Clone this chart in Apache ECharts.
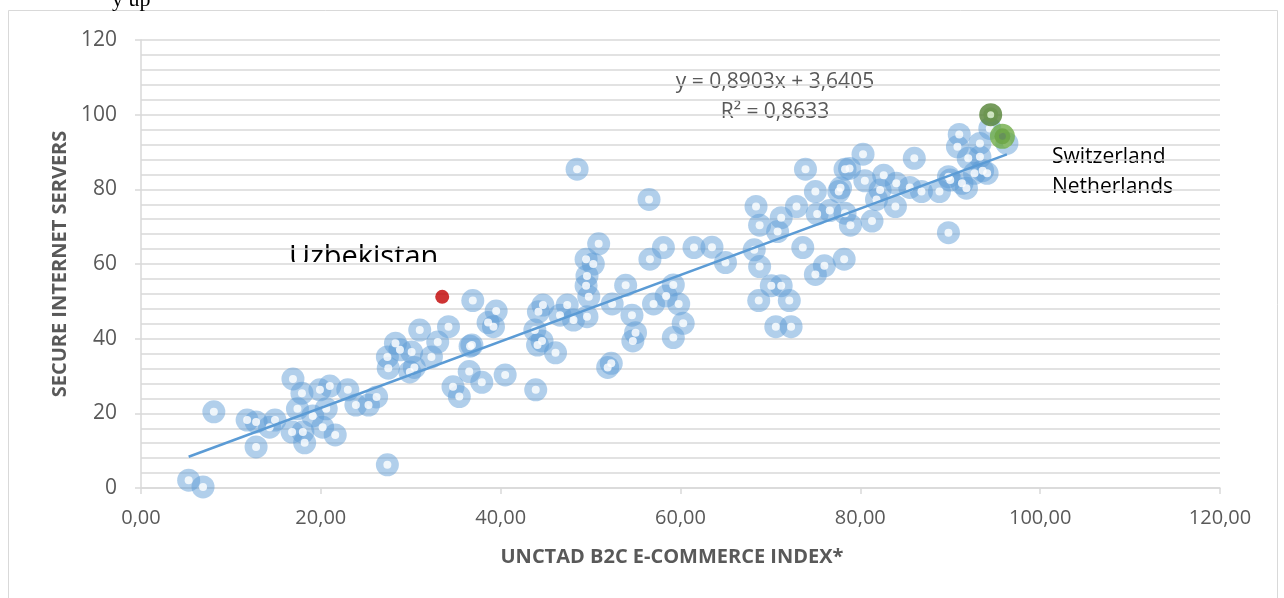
<!DOCTYPE html>
<html>
<head>
<meta charset="utf-8">
<script src="https://cdn.jsdelivr.net/npm/echarts@6/dist/echarts.min.js"></script>
<style>
  html, body { margin: 0; padding: 0; background: #fff; }
  #chart { width: 1284px; height: 598px; }
</style>
</head>
<body>
<div id="chart"></div>
<script>
// UNCTAD B2C e-commerce index (x) vs. secure internet servers (y), one pair per country
const b2cIndex = [
  5.3, 6.9, 8.1, 11.8, 12.8, 12.8, 14.3, 14.9, 16.9, 17.9, 17.4, 16.8, 18.0, 18.2, 19.1, 19.9, 21.0, 20.2, 20.6, 21.6,
  23.0, 23.9, 25.3, 26.2, 27.4, 28.3, 27.5, 28.8, 30.1, 29.9, 30.4, 31.0, 32.3, 33.0, 27.4,
  36.9, 39.5, 38.6, 39.2, 34.2, 36.8, 36.6, 36.5, 34.7, 35.4, 37.9, 40.5, 43.9, 44.2, 43.8, 44.1, 44.6, 46.1, 46.6, 48.1,
  47.4, 44.7, 49.6, 48.5, 56.5,
  49.5, 50.9, 49.6, 49.5, 49.8, 50.3, 52.4, 53.9, 54.6, 55.0, 54.7, 51.9, 52.3, 57.0, 56.6, 58.1, 61.5, 59.2, 58.4, 59.8,
  60.3, 59.2, 63.5, 65.0,
  68.4, 68.8, 68.2, 68.8, 70.1, 71.2, 68.7, 72.1, 70.6, 72.3, 71.2, 70.8, 72.9, 73.6, 73.9, 75.0, 75.2, 76.6, 75.0, 76.0,
  78.2, 77.6, 77.8, 78.3, 78.8, 80.3, 80.5, 78.3, 78.9, 81.3, 82.6, 82.2, 81.8, 84.0, 83.9, 86.0, 85.5,
  86.8, 88.8, 89.8, 89.8, 90.0, 91.0, 90.8, 92.0, 91.3, 91.8, 92.7, 93.3, 93.3, 93.6, 94.1, 94.4, 96.3
];
const secureServers = [
  2.1, 0.3, 20.4, 18.2, 11.0, 17.7, 16.3, 18.2, 29.2, 25.4, 21.2, 15.0, 15.0, 12.1, 19.3, 26.3, 27.3, 16.3, 21.2, 14.2,
  26.3, 22.2, 22.2, 24.4, 35.1, 38.8, 32.1, 37.0, 36.4, 31.1, 32.3, 42.3, 35.1, 39.1, 6.2,
  50.2, 47.4, 44.3, 43.2, 43.2, 38.3, 38.0, 31.2, 27.1, 24.5, 28.3, 30.3, 26.3, 47.2, 42.3, 38.3, 39.4, 36.2, 46.3, 45.0,
  49.0, 49.0, 45.9, 85.4, 77.3,
  61.3, 65.4, 56.8, 54.2, 51.2, 60.0, 49.3, 54.3, 46.3, 41.6, 39.4, 32.3, 33.4, 49.3, 61.3, 64.4, 64.4, 54.4, 51.4, 49.3,
  44.1, 40.3, 64.5, 60.4,
  75.4, 70.4, 63.8, 59.3, 54.2, 54.2, 50.2, 50.2, 43.2, 43.2, 72.4, 68.7, 75.4, 64.4, 85.4, 79.4, 73.4, 74.3, 57.2, 59.5,
  61.3, 79.4, 80.4, 85.4, 85.6, 89.4, 82.3, 73.6, 70.4, 71.5, 83.8, 79.8, 77.3, 81.6, 75.4, 88.3, 80.5,
  79.4, 79.4, 68.4, 83.4, 82.5, 94.7, 91.4, 88.3, 81.6, 80.3, 84.3, 92.3, 88.7, 85.0, 84.3, 96.3, 92.3
];

// Highlighted countries
const uzbekistan = [33.5, 51.2];
const switzerland = [94.5, 100.0];
const netherlands = [95.8, 94.2];

// Linear trend (as given by the fitted equation)
const trendSlope = 0.8903;
const trendIntercept = 3.6405;
const trendLabel = 'y = 0,8903x + 3,6405';
const r2Label = 'R² = 0,8633';

const axisTicks = [0, 20, 40, 60, 80, 100, 120];

const points = b2cIndex.map((x, i) => [x, secureServers[i]]);
const allX = b2cIndex.concat([uzbekistan[0], switzerland[0], netherlands[0]]);
const xLo = Math.min.apply(null, allX);
const xHi = Math.max.apply(null, allX);
const trend = [xLo, xHi].map(x => [x, trendSlope * x + trendIntercept]);

const GRID = '#D9D9D9';
const TXT = '#595959';
const FONT = '"Open Sans", "Liberation Sans", sans-serif';

const chart = echarts.init(document.getElementById('chart'), null, { renderer: 'canvas' });

chart.setOption({
  animation: false,
  backgroundColor: '#fff',
  grid: { left: 141, right: 64, top: 40, bottom: 110 },
  xAxis: {
    type: 'value',
    min: axisTicks[0], max: axisTicks[axisTicks.length - 1], interval: 20,
    axisLine: { show: true, lineStyle: { color: GRID, width: 1.5 } },
    axisTick: { show: true, length: 6, lineStyle: { color: GRID, width: 1.5 } },
    axisLabel: {
      color: TXT, fontFamily: FONT, fontSize: 20, margin: 20,
      formatter: v => v.toFixed(2).replace('.', ',')
    },
    splitLine: { show: false }
  },
  yAxis: {
    type: 'value',
    min: axisTicks[0], max: axisTicks[axisTicks.length - 1], interval: 20,
    axisLine: { show: true, lineStyle: { color: GRID, width: 1.5 } },
    axisTick: { show: true, length: 6, lineStyle: { color: GRID, width: 1.5 } },
    axisLabel: { color: TXT, fontFamily: FONT, fontSize: 21, margin: 24 },
    splitLine: { show: true, lineStyle: { color: GRID, width: 1.5 } },
    minorTick: { show: false, splitNumber: 5 },
    minorSplitLine: { show: true, lineStyle: { color: GRID, width: 1.5 } }
  },
  series: [
    // country markers: translucent disc with a white hole on top
    {
      name: 'countries',
      type: 'scatter',
      data: points,
      symbol: 'circle',
      symbolSize: 23,
      itemStyle: { color: 'rgba(91,155,213,0.6)' },
      z: 2
    },
    {
      name: 'countries-hole',
      type: 'scatter',
      data: points,
      symbol: 'circle',
      symbolSize: 8,
      itemStyle: { color: '#ffffff' },
      z: 3
    },
    {
      name: 'trend',
      type: 'line',
      data: trend,
      showSymbol: false,
      symbol: 'none',
      lineStyle: { color: '#5B9BD5', width: 2.5 },
      z: 4
    },
    {
      name: 'Uzbekistan',
      type: 'scatter',
      data: [uzbekistan],
      symbolSize: 14,
      itemStyle: { color: '#C00000' },
      z: 5
    },
    {
      name: 'Switzerland',
      type: 'scatter',
      data: [switzerland],
      symbolSize: 15,
      itemStyle: { color: '#C5E0B4', borderColor: '#548235', borderWidth: 8 },
      z: 5
    },
    {
      name: 'Netherlands',
      type: 'scatter',
      data: [netherlands],
      symbolSize: 16,
      itemStyle: { color: '#548235', borderColor: '#70AD47', borderWidth: 9 },
      z: 6
    }
  ],
  graphic: [
    { type: 'rect', z: -10, silent: true,
      shape: { x: 8.5, y: 10.5, width: 1269, height: 700 },
      style: { fill: 'none', stroke: GRID, lineWidth: 1 } },
    // tail of the line of text above the chart box
    { type: 'text', x: 112, y: 11, silent: true,
      style: { text: 'y up', font: '22px "Liberation Serif", serif', fill: '#000', verticalAlign: 'bottom' } },
    // axis titles
    { type: 'text', x: 60, y: 264, rotation: Math.PI / 2, silent: true,
      style: { text: 'SECURE INTERNET SERVERS', font: 'bold 20px ' + FONT, fill: TXT,
               align: 'center', verticalAlign: 'middle' } },
    { type: 'text', x: 672, y: 557, silent: true,
      style: { text: 'UNCTAD B2C E-COMMERCE INDEX*', font: 'bold 20px ' + FONT, fill: TXT,
               align: 'center', verticalAlign: 'middle' } },
    // trend equation
    { type: 'text', x: 775, y: 82, silent: true,
      style: { text: trendLabel, font: '21px ' + FONT, fill: TXT, align: 'center', verticalAlign: 'middle' } },
    { type: 'text', x: 775, y: 112, silent: true,
      style: { text: r2Label, font: '21px ' + FONT, fill: TXT, align: 'center', verticalAlign: 'middle' } },
    // country labels (the Uzbekistan box is cut at its lower edge)
    { type: 'text', x: 289, y: 243, z: -3, silent: true,
      style: { text: 'Uzbekistan', font: '29px ' + FONT, fill: '#000', verticalAlign: 'top' } },
    { type: 'rect', z: -2, silent: true,
      shape: { x: 280, y: 262, width: 175, height: 16 },
      style: { fill: '#fff' } },
    { type: 'text', x: 1052, y: 157, silent: true,
      style: { text: 'Switzerland', font: '21px ' + FONT, fill: '#000', verticalAlign: 'middle' } },
    { type: 'text', x: 1052, y: 187, silent: true,
      style: { text: 'Netherlands', font: '21px ' + FONT, fill: '#000', verticalAlign: 'middle' } }
  ]
});
</script>
</body>
</html>
